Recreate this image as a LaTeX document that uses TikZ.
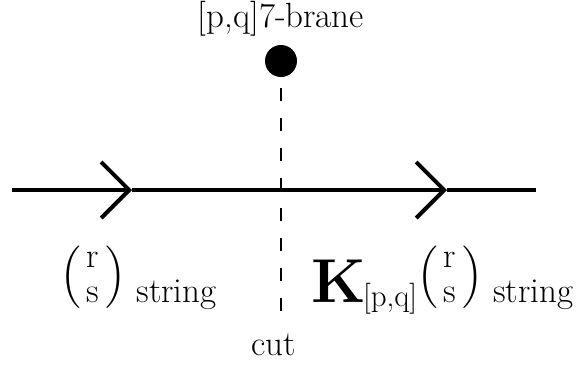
\documentclass[tikz,border=0pt]{standalone}
\usepackage{amsmath}
\usepackage{fontspec}
\usepackage{tikz}
\usetikzlibrary{positioning, arrows.meta}

% charge column vector (r over s) between big parentheses
\newcommand{\rsvec}{\raisebox{8pt}{$\Bigl($}\,\begin{tabular}[b]{@{}c@{}}r\\[-3.5pt]s\end{tabular}\,\raisebox{8pt}{$\Bigr)$}}

\begin{document}
\begin{tikzpicture}[
    x=0.5pt, y=-0.5pt, % one unit per pixel of the sketch
    every node/.style={inner sep=0pt, font=\fontsize{17.5}{21}\selectfont},
    chevron/.style={-{Straight Barb[length=14pt, width=28pt]}, line width=2pt}
]
    \useasboundingbox (0,0) rectangle (580,365);

    % Place the nodes
    \node (brane) [circle, fill, minimum size=16pt] at (281,61) {};
    \node (branelabel) [anchor=base] at (281,27) {[p,q]7-brane};
    \coordinate (cutend) at (281,312);
    \node (cutlabel) [anchor=base] at (274,355) {cut};
    \coordinate (lstart) at (12,190);
    \coordinate (tip1) at (132,190);
    \coordinate (tip2) at (447,190);
    \coordinate (lend) at (536,190);
    \node (leftlabel) [anchor=base west] at (60,302) {\rsvec\ string};
    \node (rightlabel) [anchor=base west] at (311,302)
        {{\fontsize{31}{36}\selectfont\bfseries K}\kern-1.5pt\raisebox{-2pt}{\fontsize{15.5}{18}\selectfont[p,q]}\rsvec\ string};

    % Draw the string
    \draw [chevron] (lstart) -- (tip1);
    \draw [chevron] (tip1) -- (tip2);
    \draw [line width=2pt] (tip2) -- (lend);

    % draw the cut
    \draw [line width=1pt, dash pattern=on 6.5pt off 8.5pt, shorten <=5.5pt] (brane) -- (cutend);
\end{tikzpicture}
\end{document}
